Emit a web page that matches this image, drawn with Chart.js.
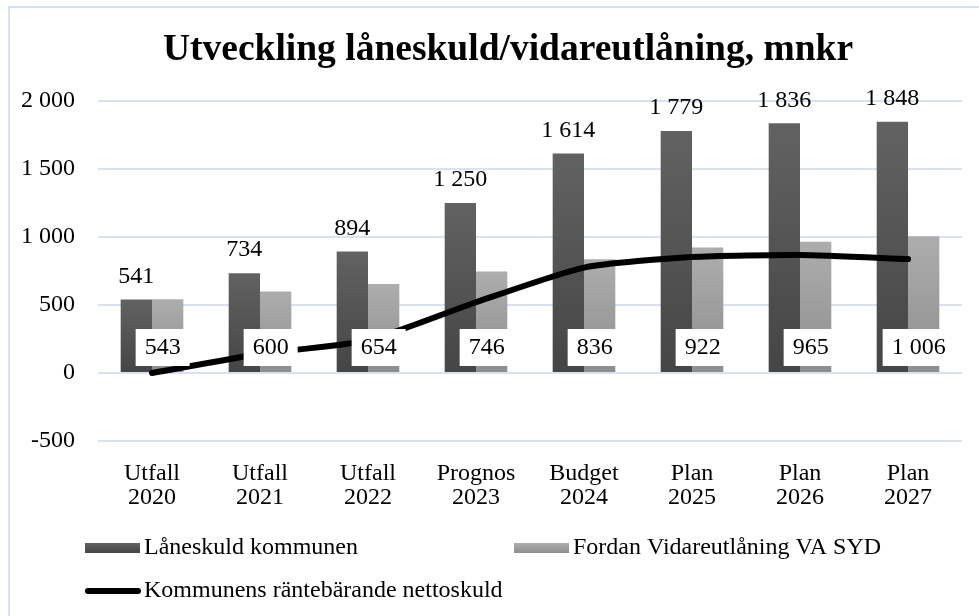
<!DOCTYPE html>
<html>
<head>
<meta charset="utf-8">
<script src="https://cdn.jsdelivr.net/npm/chart.js@4"></script>
<style>
  html, body { margin: 0; padding: 0; background: #fff; }
  canvas { display: block; }
</style>
</head>
<body>
<canvas id="graf" width="979" height="616"></canvas>
<script>
const titel = 'Utveckling låneskuld/vidareutlåning, mnkr';
const kategorier = [['Utfall', '2020'], ['Utfall', '2021'], ['Utfall', '2022'], ['Prognos', '2023'],
    ['Budget', '2024'], ['Plan', '2025'], ['Plan', '2026'], ['Plan', '2027']];
const laneskuld = [541, 734, 894, 1250, 1614, 1779, 1836, 1848];
const fordran = [543, 600, 654, 746, 836, 922, 965, 1006];
const nettoskuld = [0, 140, 240, 520, 775, 853, 868, 838];
const yTicks = [-500, 0, 500, 1000, 1500, 2000];

const serif = "'Liberation Serif', 'Times New Roman', serif";
const gridFarg = '#d9e2f3';

function fmt(v) {
    const s = String(Math.abs(v)).replace(/\B(?=(\d{3})+(?!\d))/g, ' ');
    return (v < 0 ? '-' : '') + s;
}

function stapelGradient(top, bottom) {
    return function (ctx) {
        const c = ctx.chart;
        if (!c.chartArea || ctx.type !== 'data') return bottom;
        const ys = c.scales.y;
        const y1 = ys.getPixelForValue(ctx.raw);
        const y0 = ys.getPixelForValue(0);
        if (Math.abs(y0 - y1) < 1) return top;
        const g = c.ctx.createLinearGradient(0, y1, 0, y0);
        g.addColorStop(0, top);
        g.addColorStop(1, bottom);
        return g;
    };
}

// ram, titel, etiketter och legend
const ritaExtra = {
    id: 'ritaExtra',
    beforeDraw(chart) {
        const c = chart.ctx;
        c.save();
        c.fillStyle = '#fff';
        c.fillRect(0, 0, chart.width, chart.height);
        c.strokeStyle = gridFarg;
        c.lineWidth = 2;
        c.strokeRect(9, 7, 1000, 1000);
        c.fillStyle = '#000';
        c.font = 'bold 37.5px ' + serif;
        c.textAlign = 'center';
        c.textBaseline = 'middle';
        c.fillText(titel, 508, 50);
        c.restore();
    },
    afterDatasetsDraw(chart) {
        const c = chart.ctx;
        const y0 = chart.scales.y.getPixelForValue(0);
        c.save();
        c.font = '24px ' + serif;
        c.textAlign = 'center';
        c.textBaseline = 'middle';
        c.fillStyle = '#000';
        chart.getDatasetMeta(0).data.forEach((bar, i) => {
            c.fillText(fmt(laneskuld[i]), bar.x, bar.y - 23);
        });
        chart.getDatasetMeta(1).data.forEach((bar, i) => {
            const txt = fmt(fordran[i]);
            const w = c.measureText(txt).width + 18;
            const cx = bar.x - 5;
            c.fillStyle = '#fff';
            c.fillRect(cx - w / 2, y0 - 44, w, 37);
            c.fillStyle = '#000';
            c.fillText(txt, cx, y0 - 25);
        });

        // legend
        const ds = chart.data.datasets;
        c.textAlign = 'left';
        let g = c.createLinearGradient(0, 543, 0, 553);
        g.addColorStop(0, '#626262'); g.addColorStop(1, '#454545');
        c.fillStyle = g;
        c.fillRect(85, 543, 55, 10);
        c.fillStyle = '#000';
        c.fillText(ds[0].label, 144, 548);
        g = c.createLinearGradient(0, 543, 0, 553);
        g.addColorStop(0, '#adadad'); g.addColorStop(1, '#8e8e8e');
        c.fillStyle = g;
        c.fillRect(514, 543, 55, 10);
        c.fillStyle = '#000';
        c.fillText(ds[1].label, 573, 548);
        c.strokeStyle = '#000';
        c.lineWidth = 6;
        c.lineCap = 'round';
        c.beginPath();
        c.moveTo(88, 591);
        c.lineTo(138, 591);
        c.stroke();
        c.fillText(ds[2].label, 144, 591);
        c.restore();
    }
};

new Chart(document.getElementById('graf'), {
    type: 'bar',
    data: {
        labels: kategorier,
        datasets: [{
            label: 'Låneskuld kommunen',
            data: laneskuld,
            backgroundColor: stapelGradient('#626262', '#454545'),
            order: 2
        }, {
            label: 'Fordan Vidareutlåning VA SYD',
            data: fordran,
            backgroundColor: stapelGradient('#adadad', '#8e8e8e'),
            order: 2
        }, {
            type: 'line',
            label: 'Kommunens räntebärande nettoskuld',
            data: nettoskuld,
            borderColor: '#000',
            borderWidth: 6,
            borderCapStyle: 'round',
            pointRadius: 0,
            tension: 0.2,
            fill: false,
            order: 1
        }]
    },
    options: {
        responsive: false,
        animation: false,
        devicePixelRatio: 1,
        layout: { padding: { left: 0, right: 17, top: 101, bottom: 0 } },
        datasets: {
            bar: { categoryPercentage: 0.58, barPercentage: 1.0 }
        },
        plugins: {
            legend: { display: false },
            tooltip: { enabled: false },
            title: { display: false }
        },
        scales: {
            x: {
                grid: { display: false },
                border: { display: false },
                ticks: {
                    color: '#000',
                    font: { family: serif, size: 24, lineHeight: 0.98 },
                    padding: 13,
                    maxRotation: 0,
                    autoSkip: false
                },
                afterFit(s) { s.height = 175; }
            },
            y: {
                min: -500,
                max: 2000,
                border: { display: false },
                grid: { color: gridFarg, lineWidth: 2, drawTicks: false },
                afterBuildTicks(s) { s.ticks = yTicks.map(v => ({ value: v })); },
                afterFit(s) { s.width = 98; },
                ticks: {
                    color: '#000',
                    font: { family: serif, size: 24 },
                    padding: 23,
                    callback: v => fmt(v)
                }
            }
        }
    },
    plugins: [ritaExtra]
});
</script>
</body>
</html>
